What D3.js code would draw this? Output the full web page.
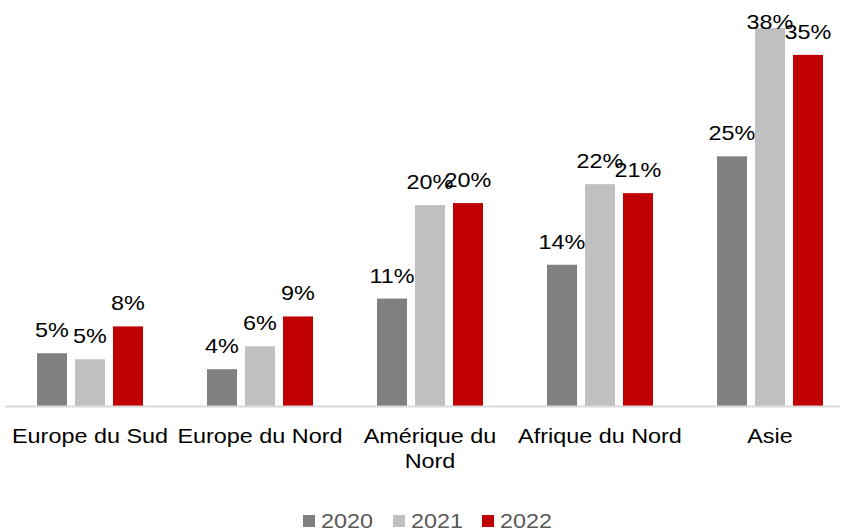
<!DOCTYPE html>
<html>
<head>
<meta charset="utf-8">
<script src="https://cdn.jsdelivr.net/npm/d3@7"></script>
<style>
  html, body { margin: 0; padding: 0; background: #fff; }
  svg { display: block; font-family: "Liberation Sans", Arial, sans-serif; }
</style>
</head>
<body>
<svg id="chart" width="844" height="530"></svg>
<script>
// Régions et parts annuelles (%)
const regions = ["Europe du Sud", "Europe du Nord", "Amérique du Nord", "Afrique du Nord", "Asie"];
const regionLines = [["Europe du Sud"], ["Europe du Nord"], ["Amérique du", "Nord"], ["Afrique du Nord"], ["Asie"]];
const years = ["2020", "2021", "2022"];
const values2020 = [5.3, 3.7, 10.8, 14.2, 25.1];
const values2021 = [4.7, 6.0, 20.2, 22.3, 38.0];
const values2022 = [8.0, 9.0, 20.4, 21.4, 35.3];
const colors = ["#808080", "#c0c0c0", "#c00000"];

const series = [values2020, values2021, values2022];
const svg = d3.select("#chart");

// Texte légèrement élargi horizontalement
const sx = 1.17;
const fontSize = 20;

const baseY = 406;
const x0 = d3.scaleBand().domain(regions).range([5, 855]).paddingInner(0).paddingOuter(0);
const x1 = d3.scaleBand().domain(years).range([0, 106]).paddingInner(0.21);
const y = d3.scaleLinear().domain([0, 38]).range([baseY, 28]);

const groups = svg.selectAll("g.region")
  .data(regions)
  .join("g")
  .attr("class", "region")
  .attr("transform", d => `translate(${x0(d) + (x0.bandwidth() - 106) / 2},0)`);

groups.each(function (r, i) {
  const g = d3.select(this);
  const rows = years.map((yr, k) => ({ yr, k, v: series[k][i] }));
  g.selectAll("rect")
    .data(rows)
    .join("rect")
    .attr("x", d => x1(d.yr))
    .attr("width", x1.bandwidth())
    .attr("y", d => y(d.v))
    .attr("height", d => baseY - y(d.v))
    .attr("fill", d => colors[d.k]);
  g.selectAll("text.val")
    .data(rows)
    .join("text")
    .attr("class", "val")
    .attr("transform", d => `translate(${x1(d.yr) + x1.bandwidth() / 2},${Math.max(y(d.v) - 16, 29)}) scale(${sx},1)`)
    .attr("text-anchor", "middle")
    .attr("font-size", fontSize)
    .attr("fill", "#000")
    .text(d => Math.round(d.v) + "%");
});

// Ligne de base
svg.append("line")
  .attr("x1", 5).attr("x2", 840)
  .attr("y1", baseY + 0.5).attr("y2", baseY + 0.5)
  .attr("stroke", "#d9d9d9").attr("stroke-width", 2);

// Libellés des catégories
const cat = svg.selectAll("text.cat")
  .data(regions)
  .join("text")
  .attr("class", "cat")
  .attr("text-anchor", "middle")
  .attr("font-size", fontSize)
  .attr("fill", "#000")
  .attr("transform", d => `translate(${x0(d) + x0.bandwidth() / 2},443) scale(${sx},1)`);
cat.each(function (d, i) {
  d3.select(this).selectAll("tspan")
    .data(regionLines[i])
    .join("tspan")
    .attr("x", 0)
    .attr("dy", (t, j) => j === 0 ? 0 : 25)
    .text(t => t);
});

// Légende
const legendX = [303, 393, 482];
const legend = svg.selectAll("g.leg")
  .data(years)
  .join("g")
  .attr("class", "leg")
  .attr("transform", (d, i) => `translate(${legendX[i]},515)`);
legend.append("rect")
  .attr("width", 12).attr("height", 12)
  .attr("fill", (d, i) => colors[i]);
legend.append("text")
  .attr("transform", `translate(18,13) scale(${sx},1)`)
  .attr("font-size", fontSize)
  .attr("fill", "#595959")
  .text(d => d);
</script>
</body>
</html>
